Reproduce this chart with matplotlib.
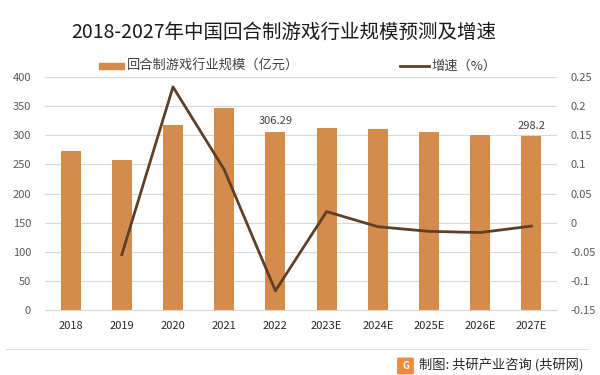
import matplotlib.pyplot as plt
import matplotlib.patches as mpatches
from matplotlib.lines import Line2D
import numpy as np

plt.rcParams['font.family'] = ['Noto Sans CJK SC', 'DejaVu Sans']

years = ["2018", "2019", "2020", "2021", "2022", "2023E", "2024E", "2025E", "2026E", "2027E"]
scale = [273, 258, 318, 347, 306.29, 312, 310, 305, 300, 298.2]
growth = [np.nan, -0.055, 0.233, 0.091, -0.117, 0.019, -0.007, -0.015, -0.017, -0.006]
labeled = {"2022": "306.29", "2027E": "298.2"}

bar_color = "#D58B4C"
line_color = "#5E4028"
grid_color = "#D9D9D9"
tick_color = "#595959"

fig = plt.figure(figsize=(6, 3.75), dpi=100)
ax = fig.add_axes([45 / 600, 1 - 310 / 375, 512 / 600, 233 / 375])
x = np.arange(len(years))

ax.bar(x, scale, width=0.39, color=bar_color, zorder=2)
ax.set_ylim(0, 400)
ax.set_xlim(-0.5, len(years) - 0.5)
ax.set_yticks(range(0, 401, 50))
ax.yaxis.grid(True, color=grid_color, linewidth=0.8, zorder=0)
ax.set_axisbelow(True)
for s in ["top", "right", "left"]:
    ax.spines[s].set_visible(False)
ax.spines["bottom"].set_color(grid_color)
ax.set_xticks(x)
ax.set_xticklabels(years)
ax.tick_params(axis="x", length=0, pad=8, labelsize=8, labelcolor="#262626")
ax.tick_params(axis="y", length=0, pad=10, labelsize=8, labelcolor=tick_color)

for i, y in enumerate(years):
    if y in labeled:
        ax.text(i, scale[i] + 18, labeled[y], ha="center", va="center",
                fontsize=8, color="#404040", zorder=4)

ax2 = ax.twinx()
ax2.plot(x, growth, color=line_color, linewidth=2, zorder=3)
ax2.set_ylim(-0.15, 0.25)
ax2.set_yticks(np.round(np.arange(-0.15, 0.2501, 0.05), 2))
ax2.set_yticklabels(["-0.15", "-0.1", "-0.05", "0", "0.05", "0.1", "0.15", "0.2", "0.25"])
ax2.tick_params(axis="y", length=0, pad=10, labelsize=8, labelcolor=tick_color)
for s in ax2.spines.values():
    s.set_visible(False)

# title
fig.text(284 / 600, 1 - 32 / 375, "2018-2027年中国回合制游戏行业规模预测及增速",
         ha="center", va="center", fontsize=14, color="#1a1a1a")

# legend
fig.patches.append(mpatches.Rectangle((99 / 600, 1 - 69 / 375), 25 / 600, 6 / 375,
                                      transform=fig.transFigure, color=bar_color))
fig.text(127 / 600, 1 - 66 / 375, "回合制游戏行业规模（亿元）", ha="left", va="center",
         fontsize=9.5, color="#404040")
fig.lines.append(Line2D([400 / 600, 429 / 600], [1 - 66 / 375, 1 - 66 / 375],
                        transform=fig.transFigure, color=line_color, linewidth=2))
fig.text(431 / 600, 1 - 66 / 375, "增速（%）", ha="left", va="center",
         fontsize=9.5, color="#404040")

# footer
fig.lines.append(Line2D([6 / 600, 588 / 600], [1 - 349 / 375, 1 - 349 / 375],
                        transform=fig.transFigure, color="#E0E0E0", linewidth=0.8))
fig.patches.append(mpatches.FancyBboxPatch((399 / 600, 1 - 373 / 375), 13 / 600, 14 / 375,
                                           boxstyle="round,pad=0.002", transform=fig.transFigure,
                                           color="#F08A3C"))
fig.text(405.5 / 600, 1 - 366 / 375, "G", ha="center", va="center", fontsize=7,
         color="white", fontweight="bold")
fig.text(419 / 600, 1 - 366 / 375, "制图: 共研产业咨询 (共研网)", ha="left", va="center",
         fontsize=9.5, color="#262626")

fig.savefig("out.png", dpi=100)
